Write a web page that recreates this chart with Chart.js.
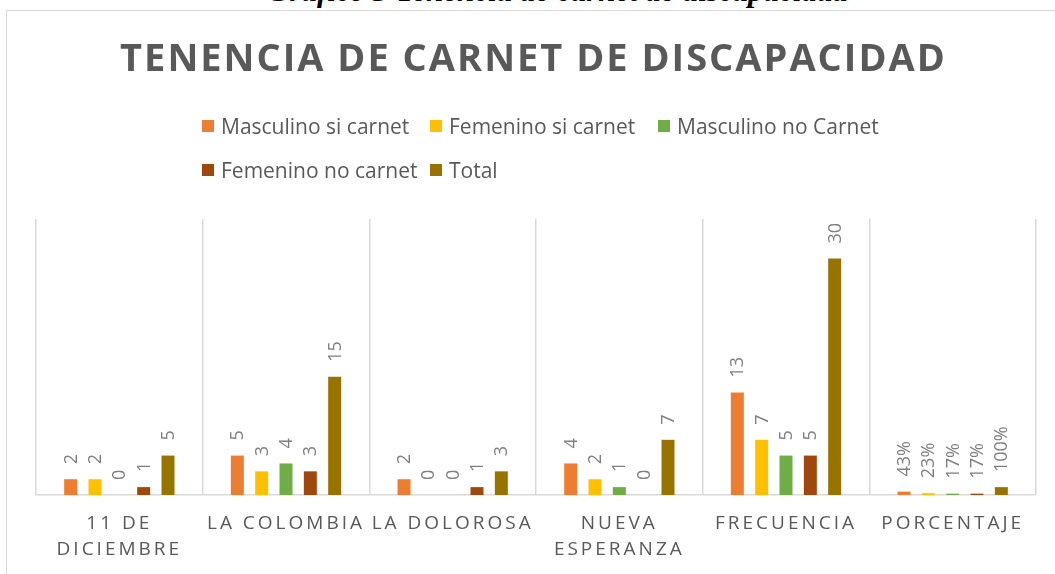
<!DOCTYPE html>
<html lang="es">
<head>
<meta charset="utf-8">
<title>Tenencia de carnet de discapacidad</title>
<script src="https://cdn.jsdelivr.net/npm/chart.js@4.4.1/dist/chart.umd.min.js"></script>
<style>
  html, body { margin: 0; padding: 0; background: #fff; }
  body { width: 1055px; height: 574px; position: relative; overflow: hidden; }
  #leyenda-pie {
    position: absolute; left: 0; top: -25px; width: 1055px; text-align: center;
    font: italic bold 31px "Liberation Serif", serif; line-height: 31px; color: #000;
    padding-left: 60px; box-sizing: border-box;
  }
  #marco {
    position: absolute; left: 6px; top: 10px; width: 1070px; height: 620px;
    border: 1.5px solid #d9d9d9; box-sizing: border-box; background: #fff;
  }
  #grafico { position: absolute; left: 0; top: 0; }
  #titulo {
    position: absolute; left: 0; top: 37px; width: 1055px; text-align: center;
    font: bold 38px "Open Sans", sans-serif; line-height: 38px; color: #595959;
    letter-spacing: 2px; padding-left: 12px; box-sizing: border-box;
  }
  #leyenda {
    position: absolute; left: 202px; top: 104px;
    display: grid; grid-template-columns: 228px 228px auto; row-gap: 0;
    font: 21px "Open Sans", sans-serif; color: #595959;
  }
  #leyenda .item { display: flex; align-items: center; height: 44px; white-space: nowrap; }
  #leyenda .caja { width: 12px; height: 12px; margin-right: 7px; flex: none; }
</style>
</head>
<body>
<div id="leyenda-pie">Gráfico 3 Tenencia de carnet de discapacidad</div>
<div id="marco"></div>
<canvas id="grafico" width="1055" height="574"></canvas>
<div id="titulo">TENENCIA DE CARNET DE DISCAPACIDAD</div>
<div id="leyenda"></div>

<script>
// Datos
const categorias = [
    ['11 DE', 'DICIEMBRE'],
    'LA COLOMBIA',
    'LA DOLOROSA',
    ['NUEVA', 'ESPERANZA'],
    'FRECUENCIA',
    'PORCENTAJE'
];
const series = ['Masculino si carnet', 'Femenino si carnet', 'Masculino no Carnet', 'Femenino no carnet', 'Total'];
const masculinoSi = [2, 5, 2, 4, 13, 0.43];
const femeninoSi  = [2, 3, 0, 2, 7, 0.23];
const masculinoNo = [0, 4, 0, 1, 5, 0.17];
const femeninoNo  = [1, 3, 1, 0, 5, 0.17];
const total       = [5, 15, 3, 7, 30, 1.00];
const colores = ['#ed7d31', '#ffc000', '#70ad47', '#9e480e', '#997300'];
const idxPorcentaje = 5;

// Leyenda en HTML (dos filas como en el original)
const leyenda = document.getElementById('leyenda');
series.forEach((nombre, i) => {
    const item = document.createElement('div');
    item.className = 'item';
    item.innerHTML = `<span class="caja" style="background:${colores[i]}"></span>${nombre}`;
    leyenda.appendChild(item);
});

// Espaciado de letras para las etiquetas del eje X
const espaciadoEje = {
    id: 'espaciadoEje',
    beforeDraw(chart) { chart.ctx.letterSpacing = '3px'; },
    beforeDatasetsDraw(chart) { chart.ctx.letterSpacing = '0px'; }
};

// Etiquetas de datos giradas 90°
const etiquetasBarras = {
    id: 'etiquetasBarras',
    afterDatasetsDraw(chart) {
        const ctx = chart.ctx;
        ctx.save();
        ctx.letterSpacing = '0px';
        ctx.font = '18px "Open Sans"';
        ctx.fillStyle = '#7f7f7f';
        ctx.textAlign = 'left';
        ctx.textBaseline = 'middle';
        chart.data.datasets.forEach((ds, i) => {
            const meta = chart.getDatasetMeta(i);
            meta.data.forEach((barra, j) => {
                const v = ds.data[j];
                const texto = j === idxPorcentaje ? Math.round(v * 100) + '%' : String(v);
                ctx.save();
                ctx.translate(barra.x, barra.y - 15);
                ctx.rotate(-Math.PI / 2);
                ctx.fillText(texto, 0, 1);
                ctx.restore();
            });
        });
        ctx.restore();
    }
};

const valores = [masculinoSi, femeninoSi, masculinoNo, femeninoNo, total];

new Chart(document.getElementById('grafico'), {
    type: 'bar',
    data: {
        labels: categorias,
        datasets: series.map((nombre, i) => ({
            label: nombre,
            data: valores[i],
            backgroundColor: colores[i],
            borderWidth: 0,
            categoryPercentage: 0.73,
            barPercentage: 0.534
        }))
    },
    options: {
        responsive: false,
        animation: false,
        layout: { padding: { left: 36, right: 19, top: 219, bottom: 0 } },
        plugins: {
            legend: { display: false },
            title: { display: false },
            tooltip: { enabled: false }
        },
        scales: {
            x: {
                grid: { offset: true, color: '#d9d9d9', lineWidth: 1.5, drawTicks: false },
                border: { display: true, color: '#d9d9d9', width: 1.5 },
                ticks: {
                    color: '#595959',
                    font: { family: 'Open Sans', size: 19, lineHeight: 1.34 },
                    padding: 16,
                    maxRotation: 0,
                    autoSkip: false
                },
                afterFit(scale) { scale.height = 79; }
            },
            y: { display: false, min: 0, max: 35 }
        }
    },
    plugins: [espaciadoEje, etiquetasBarras]
});
</script>
</body>
</html>
